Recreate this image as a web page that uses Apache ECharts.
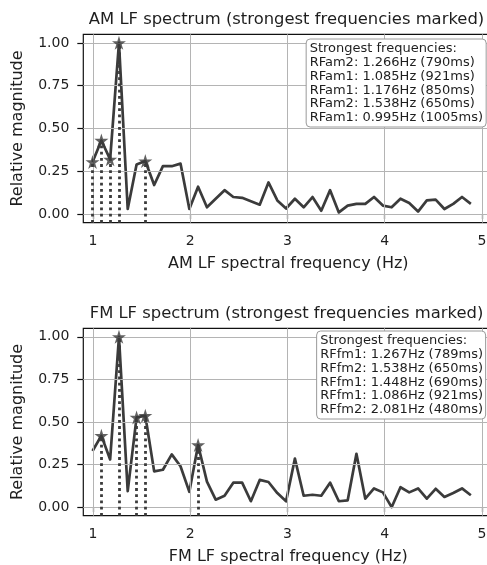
<!DOCTYPE html>
<html><head><meta charset="utf-8">
<script src="https://cdn.jsdelivr.net/npm/echarts@6/dist/echarts.min.js"></script>
<style>html,body{margin:0;padding:0;background:#fff}#c{width:487px;height:565px}</style>
</head><body><div id="c"></div><script>
// ---- data ----
const freqs = [0.995,1.086,1.176,1.267,1.357,1.448,1.538,1.629,1.719,1.810,1.900,1.991,2.081,2.172,2.262,2.353,2.443,2.534,2.624,2.715,2.805,2.896,2.986,3.077,3.167,3.258,3.348,3.439,3.529,3.620,3.710,3.801,3.891,3.982,4.072,4.163,4.253,4.344,4.434,4.525,4.615,4.706,4.796,4.887];
const amMag = [0.305,0.43,0.32,1.00,0.03,0.29,0.31,0.17,0.28,0.28,0.295,0.03,0.16,0.04,0.09,0.14,0.10,0.095,0.075,0.055,0.185,0.08,0.033,0.09,0.04,0.10,0.02,0.14,0.01,0.05,0.06,0.06,0.10,0.05,0.04,0.09,0.065,0.015,0.08,0.085,0.03,0.06,0.10,0.06];
const fmMag = [0.33,0.42,0.28,1.00,0.094,0.527,0.537,0.21,0.22,0.31,0.24,0.09,0.365,0.15,0.044,0.067,0.144,0.144,0.035,0.16,0.148,0.083,0.035,0.285,0.067,0.073,0.067,0.144,0.035,0.04,0.313,0.05,0.11,0.087,0.0,0.117,0.087,0.11,0.05,0.108,0.06,0.083,0.11,0.07];
const amPeakIdx = [3,1,2,6,0];
const fmPeakIdx = [3,6,5,1,12];
const amBoxLines = ['Strongest frequencies:','RFam2: 1.266Hz (790ms)','RFam1: 1.085Hz (921ms)','RFam1: 1.176Hz (850ms)','RFam2: 1.538Hz (650ms)','RFam1: 0.995Hz (1005ms)'];
const fmBoxLines = ['Strongest frequencies:','RFfm1: 1.267Hz (789ms)','RFfm2: 1.538Hz (650ms)','RFfm1: 1.448Hz (690ms)','RFfm1: 1.086Hz (921ms)','RFfm2: 2.081Hz (480ms)'];
const xTicks = [1,2,3,4,5];
const yTicks = [0,0.25,0.5,0.75,1.0];
const titles = ['AM LF spectrum (strongest frequencies marked)','FM LF spectrum (strongest frequencies marked)'];
const xNames = ['AM LF spectral frequency (Hz)','FM LF spectral frequency (Hz)'];
const yName = 'Relative magnitude';

// ---- style ----
const FONT = 'DejaVu Sans';
const INK = '#3b3b3b';
const TXT = '#1e1e1e';
const STAR = 'path://M50,0 L61.2,34.5 L97.6,34.5 L68.2,55.9 L79.4,90.5 L50,69.1 L20.6,90.5 L31.8,55.9 L2.4,34.5 L38.8,34.5 Z';
const LEFT = 83.3;
const grids = [{top:34.3,height:188.4},{top:328.3,height:187.4}];

const chart = echarts.init(document.getElementById('c'), null, {renderer:'canvas'});
const option = {
  animation:false,
  backgroundColor:'#fff',
  grid: grids.map(g => ({left:LEFT, width:410, top:g.top, height:g.height, outerBoundsMode:'none', containLabel:false,
    show:true, borderColor:'#111', borderWidth:1.2, backgroundColor:'transparent'})),
  xAxis: grids.map((g,k) => ({
    gridIndex:k, type:'value', min:0.9, max:5.118,
    splitLine:{show:false}, axisLine:{show:false},
    axisTick:{show:true, customValues:xTicks, length:5, lineStyle:{color:'#111', width:1.2}},
    axisLabel:{customValues:xTicks, margin:12, fontFamily:FONT, fontSize:14, color:TXT, formatter:v=>String(v)},
    name:xNames[k], nameLocation:'middle', nameGap:33,
    nameTextStyle:{fontFamily:FONT, fontSize:16, color:TXT}
  })),
  yAxis: grids.map((g,k) => ({
    gridIndex:k, type:'value', min:-0.05, max:1.05,
    splitLine:{show:false}, axisLine:{show:false},
    axisTick:{show:true, customValues:yTicks, length:6, lineStyle:{color:'#111', width:1.2}},
    axisLabel:{customValues:yTicks, margin:14, fontFamily:FONT, fontSize:14, color:TXT, formatter:v=>v.toFixed(2)},
    name:yName, nameLocation:'middle', nameGap:57, nameRotate:90,
    nameTextStyle:{fontFamily:FONT, fontSize:16, color:TXT}
  })),
  title: [
    {text:amBoxLines.join('\n'), right:1, top:38.5},
    {text:fmBoxLines.join('\n'), right:1, top:330.5}
  ].map(t => Object.assign(t, {
    textStyle:{fontFamily:FONT, fontSize:13, lineHeight:13.9, color:TXT, fontWeight:'normal'},
    backgroundColor:'#fff', borderColor:'#9a9a9a', borderWidth:1, borderRadius:4, padding:[3,3,2,4]
  })),
  graphic: [
    {type:'text', x:286.5, y:20, style:{text:titles[0], fontFamily:FONT, fontSize:16.4, fill:TXT, align:'center', verticalAlign:'middle'}},
    {type:'text', x:286.5, y:313.5, style:{text:titles[1], fontFamily:FONT, fontSize:16.4, fill:TXT, align:'center', verticalAlign:'middle'}}
  ],
  series: []
};

[[amMag, amPeakIdx],[fmMag, fmPeakIdx]].forEach(([mag, peaks], k) => {
  option.series.push({
    type:'line', xAxisIndex:k, yAxisIndex:k, data:[], silent:true, z:1,
    markLine:{silent:true, symbol:['none','none'], label:{show:false}, animation:false,
      lineStyle:{color:'#b4b4b4', width:1, type:'solid'},
      emphasis:{disabled:true},
      data:[...xTicks.map(v=>({xAxis:v})), ...yTicks.map(v=>({yAxis:v}))]}
  });
  option.series.push({
    type:'line', xAxisIndex:k, yAxisIndex:k, data:[], silent:true, z:3,
    markLine:{silent:true, symbol:['none','none'], label:{show:false}, animation:false,
      lineStyle:{color:INK, width:2.8, type:[2.8,3.4]},
      emphasis:{disabled:true},
      data:peaks.map(i => [{coord:[freqs[i], -0.05]}, {coord:[freqs[i], mag[i]]}])}
  });
  option.series.push({
    type:'line', xAxisIndex:k, yAxisIndex:k, z:4, silent:true,
    data:freqs.map((f,i)=>[f, mag[i]]), showSymbol:false,
    lineStyle:{color:INK, width:2.7, join:'round'}
  });
  option.series.push({
    type:'scatter', xAxisIndex:k, yAxisIndex:k, z:5, silent:true,
    data:peaks.map(i=>[freqs[i], mag[i]]), symbol:STAR, symbolSize:14,
    itemStyle:{color:INK}
  });
});

chart.setOption(option);
</script></body></html>
